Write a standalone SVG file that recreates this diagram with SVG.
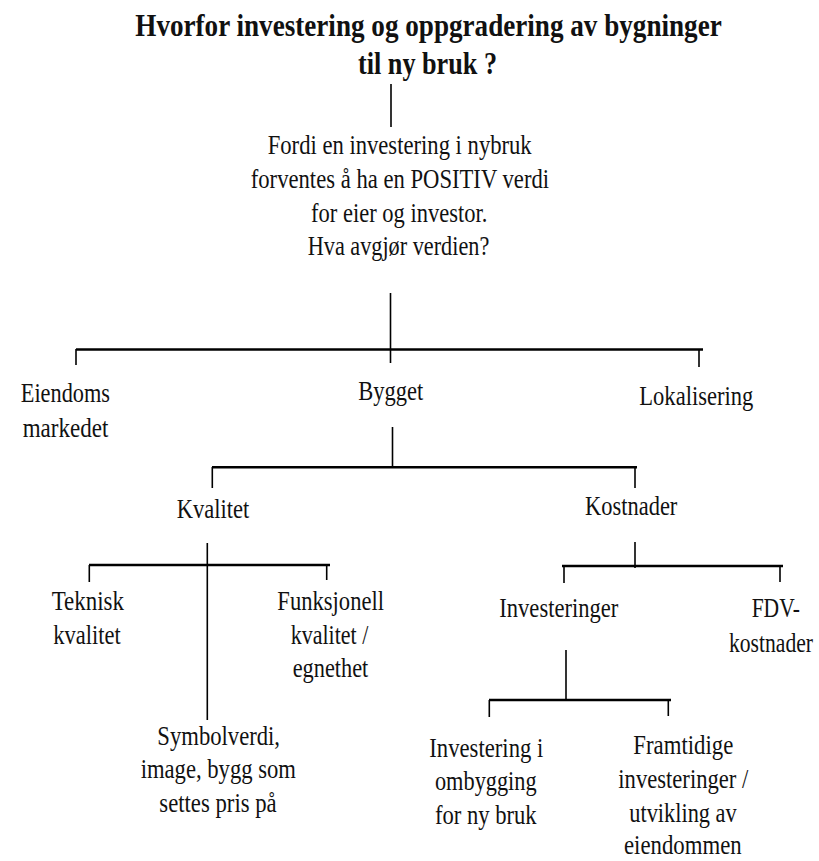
<svg xmlns="http://www.w3.org/2000/svg" width="819" height="861" viewBox="0 0 819 861">
<style>
text{font-family:"Liberation Serif","Times New Roman",serif;fill:#111;text-anchor:middle;font-size:27.5px}
.t{font-weight:bold;font-size:32px}
.h{stroke:#000;stroke-width:2.5;fill:none}
.v{stroke:#000;stroke-width:1.6;fill:none}
</style>
<rect width="819" height="861" fill="#fff"/>
<g id="title">
<text class="t" transform="translate(428.5,36) scale(0.848,1)" x="0" y="0">Hvorfor investering og oppgradering av bygninger</text>
<text class="t" transform="translate(427.5,74) scale(0.819,1)" x="0" y="0">til ny bruk ?</text>
</g>
<g id="connectors">
<line class="v" x1="391" y1="84" x2="391" y2="127"/>
<line class="v" x1="390.5" y1="293" x2="390.5" y2="363"/>
<line class="h" x1="76" y1="349.5" x2="703" y2="349.5"/>
<line class="v" x1="76" y1="349" x2="76" y2="365"/>
<line class="v" x1="699" y1="349" x2="699" y2="367"/>
<line class="v" x1="392.5" y1="427" x2="392.5" y2="467"/>
<line class="h" x1="212" y1="467.3" x2="637" y2="467.3"/>
<line class="v" x1="212.3" y1="467" x2="212.3" y2="488"/>
<line class="v" x1="635" y1="467" x2="635" y2="488"/>
<line class="v" x1="207.3" y1="543" x2="207.3" y2="720"/>
<line class="h" x1="89" y1="565" x2="330" y2="565"/>
<line class="v" x1="89.3" y1="565" x2="89.3" y2="582"/>
<line class="v" x1="326.7" y1="565" x2="326.7" y2="580"/>
<line class="v" x1="635" y1="542" x2="635" y2="568"/>
<line class="h" x1="562" y1="566" x2="783" y2="566"/>
<line class="v" x1="564" y1="566" x2="564" y2="583"/>
<line class="v" x1="780" y1="566" x2="780" y2="582"/>
<line class="v" x1="566" y1="650" x2="566" y2="700"/>
<line class="h" x1="489" y1="700" x2="671" y2="700"/>
<line class="v" x1="489.3" y1="700" x2="489.3" y2="717"/>
<line class="v" x1="668.3" y1="700" x2="668.3" y2="716"/>
</g>
<g id="fordi">
<text x="399.7" y="154.3" textLength="264" lengthAdjust="spacingAndGlyphs">Fordi en investering i nybruk</text>
<text x="399.9" y="188.3" textLength="298.3" lengthAdjust="spacingAndGlyphs">forventes å ha en POSITIV verdi</text>
<text x="399.2" y="221.7" textLength="176.3" lengthAdjust="spacingAndGlyphs">for eier og investor.</text>
<text x="398.5" y="255" textLength="181.6" lengthAdjust="spacingAndGlyphs">Hva avgjør verdien?</text>
</g>
<g id="eiendomsmarkedet">
<text x="65.4" y="401.7" textLength="89.3" lengthAdjust="spacingAndGlyphs">Eiendoms</text>
<text x="65.5" y="436.7" textLength="85.6" lengthAdjust="spacingAndGlyphs">markedet</text>
</g>
<g id="bygget">
<text x="390.8" y="400" textLength="65" lengthAdjust="spacingAndGlyphs">Bygget</text>
</g>
<g id="lokalisering">
<text x="696.3" y="405" textLength="114" lengthAdjust="spacingAndGlyphs">Lokalisering</text>
</g>
<g id="kvalitet">
<text x="213" y="518.3" textLength="72.6" lengthAdjust="spacingAndGlyphs">Kvalitet</text>
</g>
<g id="kostnader">
<text x="631.2" y="515" textLength="92.3" lengthAdjust="spacingAndGlyphs">Kostnader</text>
</g>
<g id="teknisk">
<text x="87.8" y="610" textLength="72.3" lengthAdjust="spacingAndGlyphs">Teknisk</text>
<text x="87" y="644.3" textLength="67.4" lengthAdjust="spacingAndGlyphs">kvalitet</text>
</g>
<g id="funksjonell">
<text x="330.7" y="610" textLength="106.7" lengthAdjust="spacingAndGlyphs">Funksjonell</text>
<text x="329.5" y="644.3" textLength="77.6" lengthAdjust="spacingAndGlyphs">kvalitet /</text>
<text x="330.5" y="676.7" textLength="75.6" lengthAdjust="spacingAndGlyphs">egnethet</text>
</g>
<g id="symbolverdi">
<text x="218.7" y="745" textLength="122.7" lengthAdjust="spacingAndGlyphs">Symbolverdi,</text>
<text x="218.3" y="778.3" textLength="155.3" lengthAdjust="spacingAndGlyphs">image, bygg som</text>
<text x="218" y="811.7" textLength="117.4" lengthAdjust="spacingAndGlyphs">settes pris på</text>
</g>
<g id="investeringer">
<text x="558.8" y="616.7" textLength="119" lengthAdjust="spacingAndGlyphs">Investeringer</text>
</g>
<g id="fdv">
<text x="775.8" y="616.7" textLength="48.3" lengthAdjust="spacingAndGlyphs">FDV-</text>
<text transform="translate(771,651.7) scale(0.786,1)" x="0" y="0">kostnader</text>
</g>
<g id="ombygging">
<text x="486.3" y="756.7" textLength="114" lengthAdjust="spacingAndGlyphs">Investering i</text>
<text x="485.8" y="790" textLength="101.7" lengthAdjust="spacingAndGlyphs">ombygging</text>
<text x="485.8" y="824" textLength="101.7" lengthAdjust="spacingAndGlyphs">for ny bruk</text>
</g>
<g id="framtidige">
<text x="683.3" y="754.3" textLength="100" lengthAdjust="spacingAndGlyphs">Framtidige</text>
<text x="683.3" y="788.3" textLength="130" lengthAdjust="spacingAndGlyphs">investeringer /</text>
<text x="683" y="821.7" textLength="107.4" lengthAdjust="spacingAndGlyphs">utvikling av</text>
<text x="682.8" y="854" textLength="117.7" lengthAdjust="spacingAndGlyphs">eiendommen</text>
</g>
</svg>
